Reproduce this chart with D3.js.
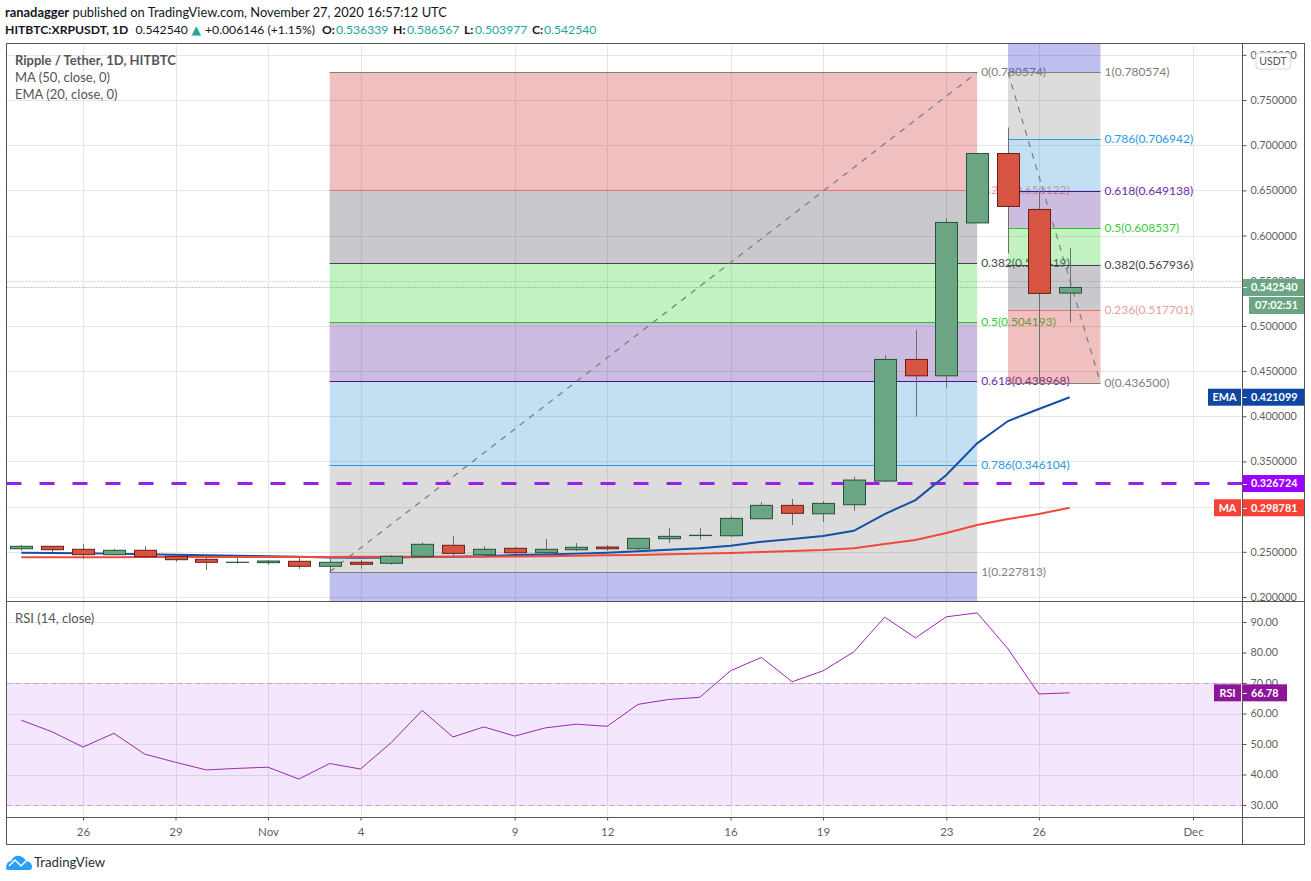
<!DOCTYPE html>
<html>
<head>
<meta charset="utf-8">
<script src="https://cdnjs.cloudflare.com/ajax/libs/d3/7.8.5/d3.min.js"></script>
<style>
  html, body { margin: 0; padding: 0; background: #fff; }
  svg { display: block; }
  text { font-family: Lato, "Noto Sans", sans-serif; }
  .axis path { display: none; }
  .axis line { stroke: #555; }
  .axis text { fill: #5f5f5f; font-size: 10.8px; font-family: Lato, sans-serif; }
  .axis.time text { font-size: 11.5px; }
</style>
</head>
<body>
<svg id="chart" width="1311" height="881"></svg>
<script>
// daily candles, Oct 24 -> Nov 27 2020
var firstDay = "2020-10-24"
var opens = [.2534,.2561,.2528,.2468,.2517,.2450,.2417,.2383,.2380,.2395,.2340,.2384,.2373,.2450,.2572,.2468,.2539,.2490,.2523,.2553,.2534,.2645,.2680,.2678,.2866,.3014,.2921,.3021,.3283,.4629,.4448,.6140,.6908,.6289,.536339]
var highs = [.2575,.2561,.2586,.2531,.2564,.2472,.2439,.2435,.2409,.2431,.2431,.2409,.2465,.2605,.2675,.2561,.2556,.2642,.2597,.2575,.2650,.2763,.2763,.2896,.3051,.3084,.3062,.3330,.4677,.4954,.6189,.6908,.7196,.6491,.586567]
var lows = [.2512,.2498,.2420,.2461,.2428,.2390,.2299,.2368,.2357,.2310,.2269,.2313,.2357,.2439,.2439,.2439,.2476,.2454,.2509,.2512,.2520,.2597,.2630,.2664,.2866,.2796,.2830,.2951,.3270,.3994,.4315,.6140,.5802,.4365,.503977]
var closes = [.2561,.2523,.2468,.2517,.2446,.2413,.2384,.2385,.2398,.2340,.2384,.2362,.2450,.2583,.2483,.2528,.2490,.2528,.2550,.2534,.2649,.2671,.2683,.2870,.3014,.2926,.3036,.3294,.4629,.4448,.6145,.6908,.6322,.5360,.542540]

var ema = [.2490,.2488,.2483,.2480,.2474,.2468,.2462,.2456,.2451,.2445,.2436,.2433,.2436,.2443,.2446,.2450,.2465,.2470,.2480,.2490,.2505,.2523,.2539,.2567,.2612,.2642,.2675,.2733,.2918,.3073,.3350,.3700,.3947,.4080,.421099]
var ma = [.2439,.2440,.2441,.2441,.2442,.2442,.2443,.2443,.2444,.2444,.2444,.2445,.2445,.2446,.2446,.2446,.2448,.2452,.2456,.2461,.2466,.2472,.2480,.2487,.2498,.2509,.2520,.2539,.2586,.2631,.2708,.2796,.2863,.2918,.298781]
var rsi = [57.8,54,49,53.5,46.7,44,41.5,42,42.4,38.5,43.6,41.8,50.5,61,52.3,55.6,52.6,55.3,56.5,55.8,63,64.6,65.3,74,78.4,70.4,74,80.2,91.6,84.8,91.7,93,81.2,66.4,66.78]

var priceTicks = [.2,.25,.3,.35,.4,.45,.5,.55,.6,.65,.7,.75,.8]
var rsiTicks = [30,40,50,60,70,80,90]
var timeTicks = ["2020-10-26","2020-10-29","2020-11-01","2020-11-04","2020-11-09","2020-11-12","2020-11-16","2020-11-19","2020-11-23","2020-11-26","2020-12-01"]
var timeLabels = ["26","29","Nov","4","9","12","16","19","23","26","Dec"]

var fibLevels = ["0","0.236","0.382","0.5","0.618","0.786","1"]
var leftFib = [.780574,.650122,.569419,.504193,.438968,.346104,.227813]
var rightFib = [.4365,.517701,.567936,.608537,.649138,.706942,.780574]
var fibLine = ["#808080","#e57373","#434651","#22c722","#4b1199","#2a9ae0","#808080"]
var fibText = ["#808080","#eaa0a0","#434651","#3cc83c","#6a2ea8","#2a9ae0","#808080"]
var fibBand = ["rgb(205,45,45)","rgb(75,75,88)","rgb(52,212,52)","rgb(85,32,152)","rgb(52,152,212)","rgb(138,138,138)","rgb(45,45,205)"]

var lastPrice = .54254, level = .326724

var parseDay = d3.utcParse("%Y-%m-%d")
var days = opens.map(function(d, i) { return d3.utcDay.offset(parseDay(firstDay), i) })

var x = d3.scaleUtc().domain([parseDay("2020-10-26"), parseDay("2020-12-01")]).range([83, 1193])
var y = d3.scaleLinear().domain([.2, .75]).range([597, 100])
var yRsi = d3.scaleLinear().domain([30, 90]).range([805, 622])

var left = 6.5, right = 1242.5, outer = 1304.5, top_ = 43.5, split = 601.5, bottom = 817.5, outerBottom = 844.5

var svg = d3.select("#chart")

// header
var head = svg.append("text").attr("x", 5).attr("y", 17).attr("font-size", 12.9).attr("fill", "#131722")
head.append("tspan").attr("font-weight", 700).text("ranadagger")
head.append("tspan").text(" published on TradingView.com, November 27, 2020 16:57:12 UTC")

var quote = svg.append("text").attr("y", 34).attr("font-size", 12.2).attr("fill", "#131722")
quote.append("tspan").attr("x", 5).attr("font-weight", 700).text("HITBTC:XRPUSDT, 1D")
quote.append("tspan").attr("x", 135.5).text("0.542540")
quote.append("tspan").attr("x", 191.5).attr("fill", "#26a69a").style("font-family", "'DejaVu Sans'").text("▲")
quote.append("tspan").attr("x", 205).text("+0.006146 (+1.15%)")
;[["O:", "0.536339", 322, 336], ["H:", "0.586567", 393, 407], ["L:", "0.503977", 464, 475], ["C:", "0.542540", 532, 544]].forEach(function(p) {
    quote.append("tspan").attr("x", p[2]).attr("font-weight", 700).text(p[0])
    quote.append("tspan").attr("x", p[3]).attr("fill", "#26a69a").text(p[1])
})

var defs = svg.append("defs")
defs.append("clipPath").attr("id", "mainClip").append("rect")
    .attr("x", left).attr("y", top_).attr("width", right - left).attr("height", split - top_)

// grid
var grid = svg.append("g").attr("stroke", "#e6e6e6").attr("stroke-width", 1)
timeTicks.forEach(function(t) {
    var px = Math.round(x(parseDay(t))) + .5
    grid.append("line").attr("x1", px).attr("x2", px).attr("y1", top_).attr("y2", bottom)
})
priceTicks.forEach(function(p) {
    var py = Math.round(y(p)) + .5
    grid.append("line").attr("x1", left).attr("x2", right).attr("y1", py).attr("y2", py)
})
rsiTicks.forEach(function(p) {
    var py = Math.round(yRsi(p)) + .5
    grid.append("line").attr("x1", left).attr("x2", right).attr("y1", py).attr("y2", py)
})

// RSI band
svg.append("rect").attr("x", left).attr("width", right - left)
    .attr("y", yRsi(70)).attr("height", yRsi(30) - yRsi(70))
    .attr("fill", "#9c27f0").attr("fill-opacity", .11)
;[70, 30].forEach(function(v) {
    svg.append("line").attr("x1", left).attr("x2", right)
        .attr("y1", Math.round(yRsi(v)) + .5).attr("y2", Math.round(yRsi(v)) + .5)
        .attr("stroke", "#b9a3c6").attr("stroke-dasharray", "5 4")
})

var main = svg.append("g").attr("clip-path", "url(#mainClip)")

function drawFib(values, beyond, x0, x1, labelX, from, to) {
    var edges = values.concat([beyond])
    values.forEach(function(v, i) {
        var a = y(edges[i]), b = y(edges[i + 1])
        main.append("rect").attr("x", x0).attr("width", x1 - x0)
            .attr("y", Math.min(a, b)).attr("height", Math.abs(a - b))
            .attr("fill", fibBand[i]).attr("fill-opacity", .3)
    })
    values.forEach(function(v, i) {
        var py = Math.round(y(v)) + .5
        main.append("line").attr("x1", x0).attr("x2", x1).attr("y1", py).attr("y2", py)
            .attr("stroke", fibLine[i])
        main.append("text").attr("x", labelX).attr("y", py).attr("dy", "0.3em")
            .attr("font-size", 12).attr("fill", fibText[i])
            .text(fibLevels[i] + "(" + d3.format(".6f")(v) + ")")
    })
    main.append("line").attr("x1", x0).attr("y1", y(from)).attr("x2", x1).attr("y2", y(to))
        .attr("stroke", "#7a7a7a").attr("stroke-width", 1.2).attr("stroke-dasharray", "6 6")
}

// left fib runs the other way round: 0 sits on top, bands go down
var lx0 = x(parseDay("2020-11-03")), lx1 = x(parseDay("2020-11-24"))
drawFib(leftFib, .1, lx0, lx1, lx1 + 4, leftFib[6], leftFib[0])

// right fib: 0 at the bottom, bands go up
var rx0 = x(parseDay("2020-11-25")), rx1 = x(parseDay("2020-11-28"))
drawFib(rightFib, .9, rx0, rx1, rx1 + 4, rightFib[6], rightFib[0])

// levels
var levelY = Math.ceil(y(level)) + .5
main.append("line").attr("x1", left).attr("x2", right).attr("y1", levelY).attr("y2", levelY)
    .attr("stroke", "#9c1fe8").attr("stroke-width", 3).attr("stroke-dasharray", "15 18")
main.append("line").attr("x1", left).attr("x2", right).attr("y1", y(lastPrice)).attr("y2", y(lastPrice))
    .attr("stroke", "#6f9a83").attr("stroke-dasharray", "1 2")

// moving averages
var line = d3.line().x(function(d, i) { return x(days[i]) }).y(function(d) { return y(d) })
main.append("path").datum(ema).attr("d", line).attr("fill", "none").attr("stroke", "#1450a8").attr("stroke-width", 2)
main.append("path").datum(ma).attr("d", line).attr("fill", "none").attr("stroke", "#ef4a3c").attr("stroke-width", 2)

// candles
var candle = main.selectAll(".candle").data(days).join("g").attr("class", "candle")
candle.append("line")
    .attr("x1", function(d) { return Math.round(x(d)) + .5 })
    .attr("x2", function(d) { return Math.round(x(d)) + .5 })
    .attr("y1", function(d, i) { return y(highs[i]) })
    .attr("y2", function(d, i) { return y(lows[i]) })
    .attr("stroke", "#6e6e6e")
candle.append("rect")
    .attr("x", function(d) { return Math.round(x(d)) - 10.5 })
    .attr("width", 22)
    .attr("y", function(d, i) { return y(Math.max(opens[i], closes[i])) })
    .attr("height", function(d, i) { return Math.abs(y(opens[i]) - y(closes[i])) })
    .attr("fill", function(d, i) { return closes[i] >= opens[i] ? "#6ba583" : "#d75442" })
    .attr("stroke", function(d, i) { return closes[i] >= opens[i] ? "#225437" : "#6d1e12" })

// RSI
var rsiLine = d3.line().x(function(d, i) { return x(days[i]) }).y(function(d) { return yRsi(d) })
svg.append("path").datum(rsi).attr("d", rsiLine).attr("fill", "none").attr("stroke", "#9c27b0").attr("stroke-width", 1)

// legends
var legend = svg.append("g").attr("font-size", 13).attr("fill", "#555")
legend.append("text").attr("x", 15).attr("y", 65).attr("font-weight", 700).text("Ripple / Tether, 1D, HITBTC")
legend.append("text").attr("x", 15).attr("y", 82).text("MA (50, close, 0)")
legend.append("text").attr("x", 15).attr("y", 99).text("EMA (20, close, 0)")
legend.append("text").attr("x", 15).attr("y", 623).text("RSI (14, close)")

// frame
svg.append("rect").attr("x", left).attr("y", top_).attr("width", outer - left).attr("height", outerBottom - top_)
    .attr("fill", "none").attr("stroke", "#555")
svg.append("line").attr("x1", right).attr("x2", right).attr("y1", top_).attr("y2", outerBottom).attr("stroke", "#555")
svg.append("line").attr("x1", left).attr("x2", outer).attr("y1", split).attr("y2", split).attr("stroke", "#555")
svg.append("line").attr("x1", left).attr("x2", outer).attr("y1", bottom).attr("y2", bottom).attr("stroke", "#555")

// axes
svg.append("g").attr("class", "axis").attr("transform", "translate(" + right + ",0)")
    .call(d3.axisRight(y).tickValues(priceTicks).tickFormat(d3.format(".6f")).tickSize(4).tickPadding(4))
svg.append("g").attr("class", "axis").attr("transform", "translate(" + right + ",0)")
    .call(d3.axisRight(yRsi).tickValues(rsiTicks).tickFormat(d3.format(".2f")).tickSize(4).tickPadding(4))
svg.append("g").attr("class", "axis time").attr("transform", "translate(0," + bottom + ")")
    .call(d3.axisBottom(x).tickValues(timeTicks.map(parseDay)).tickFormat(function(d, i) { return timeLabels[i] }).tickSize(3).tickPadding(7))

// tags on the price scale
function tag(x0, x1, py, color, label, tick) {
    svg.append("rect").attr("x", x0).attr("y", py - 8.5).attr("width", x1 - x0).attr("height", 17).attr("fill", color)
    if (tick) {
        svg.append("line").attr("x1", x0).attr("x2", x0 + 4).attr("y1", Math.round(py) + .5).attr("y2", Math.round(py) + .5).attr("stroke", "#fff")
    }
    svg.append("text").attr("x", tick ? x0 + 8 : (x0 + x1) / 2).attr("y", py).attr("dy", "0.35em")
        .attr("text-anchor", tick ? "start" : "middle")
        .attr("font-size", 10.8).attr("font-weight", 700).attr("fill", "#fff").text(label)
}
var lastEma = ema[ema.length - 1], lastMa = ma[ma.length - 1], lastRsi = rsi[rsi.length - 1]
tag(1243, 1304, y(lastPrice), "#6ba583", d3.format(".6f")(lastPrice), true)
tag(1249, 1304, 305.5, "#6ba583", "07:02:51")
tag(1243, 1304, levelY, "#9c00ff", d3.format(".6f")(level), true)
tag(1208, 1241, y(lastEma), "#0d47a1", "EMA")
tag(1243, 1304, y(lastEma), "#0d47a1", d3.format(".6f")(lastEma), true)
tag(1214, 1241, y(lastMa), "#f44336", "MA")
tag(1243, 1304, y(lastMa), "#f44336", d3.format(".6f")(lastMa), true)
tag(1214, 1241, yRsi(lastRsi), "#8e1599", "RSI")
tag(1243, 1287, yRsi(lastRsi), "#8e1599", d3.format(".2f")(lastRsi), true)

// currency button
svg.append("rect").attr("x", 1256).attr("y", 53).attr("width", 34.5).attr("height", 16).attr("rx", 3)
    .attr("fill", "#fff").attr("stroke", "#d8d8e4")
svg.append("text").attr("x", 1273).attr("y", 61).attr("dy", "0.35em").attr("text-anchor", "middle")
    .attr("font-size", 10.5).attr("fill", "#555").text("USDT")

// logo
svg.append("path")
    .attr("d", "M6 868 Q6 862 11 861 Q14 855 20 856 Q24 857 26 861 Q32 862 32 867 Q32 870 29 870 L9 870 Q6 870 6 868 Z")
    .attr("fill", "#2a9df4")
svg.append("path").attr("d", "M9 866 L15 860 L21 866 L26 861")
    .attr("fill", "none").attr("stroke", "#fff").attr("stroke-width", 1.5)
svg.append("text").attr("x", 34).attr("y", 867).attr("font-size", 13.2).attr("fill", "#2a2e39").text("TradingView")
</script>
</body>
</html>
